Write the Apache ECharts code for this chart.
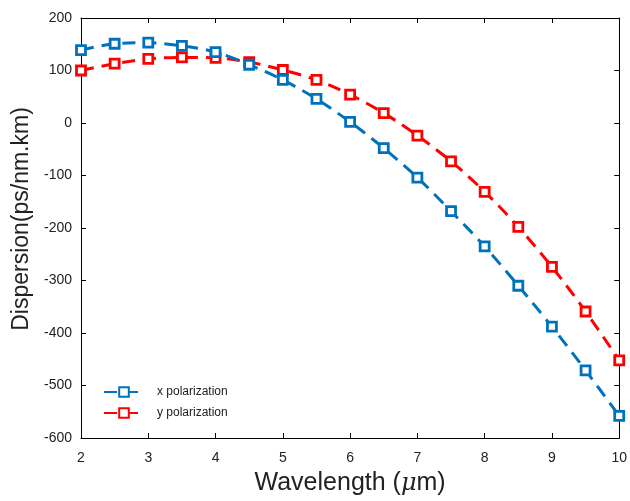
<!DOCTYPE html>
<html><head><meta charset="utf-8">
<script src="https://cdn.jsdelivr.net/npm/echarts@6/dist/echarts.min.js"></script>
<style>html,body{margin:0;padding:0;background:#fff}#c{width:630px;height:501px}</style>
</head><body><div id="c"></div>
<script>
const wavelength = [2, 2.5, 3, 3.5, 4, 4.5, 5, 5.5, 6, 6.5, 7, 7.5, 8, 8.5, 9, 9.5, 10];
const xPol = [139, 151, 153, 147, 135, 111, 82, 46, 2, -48, -104, -168, -235, -310, -388, -471, -558];
const yPol = [100, 113, 122, 125, 124, 116, 101, 82, 54, 19, -24, -73, -131, -198, -274, -359, -452];
const xTicks = [2, 3, 4, 5, 6, 7, 8, 9, 10];
const yTicks = [-600, -500, -400, -300, -200, -100, 0, 100, 200];

const font = 'Liberation Sans, Arial, sans-serif';
const chart = echarts.init(document.getElementById('c'), null, {renderer: 'canvas'});
function ser(name, vals, color) {
  return {
    name, type: 'line', smooth: 0.3,
    data: wavelength.map((w, i) => [w, vals[i]]),
    symbol: 'rect', symbolSize: 9,
    lineStyle: {color, width: 3, type: [13, 8]},
    itemStyle: {color: '#fff', borderColor: color, borderWidth: 2.8},
    emphasis: {disabled: true}, z: name === 'x polarization' ? 3 : 2
  };
}
function axisCommon() {
  return {
    axisLine: {show: true, onZero: false, lineStyle: {color: '#000', width: 1}},
    axisTick: {show: true, inside: true, length: 5, lineStyle: {color: '#000'}},
    splitLine: {show: false}
  };
}
chart.setOption({
  animation: false,
  grid: {left: 81, right: 8, top: 18, bottom: 61},
  legend: {
    orient: 'vertical', left: 98, top: 381, itemWidth: 40, itemHeight: 12, itemGap: 9,
    textStyle: {fontFamily: font, fontSize: 12, color: '#222', padding: [0, 0, 0, 8]},
    data: ['x polarization', 'y polarization']
  },
  xAxis: [
    Object.assign({type: 'value', min: 2, max: 10, interval: 1,
      axisLabel: {fontFamily: font, fontSize: 14, color: '#222', margin: 13},
      name: '{n|Wavelength (}{i|μ}{n|m)}', nameLocation: 'middle', nameGap: 33,
      nameTextStyle: {rich: {n: {fontFamily: font, fontSize: 25, color: '#222'}, i: {fontFamily: 'DejaVu Serif, serif', fontStyle: 'italic', fontSize: 24, color: '#222'}}}
    }, axisCommon()),
    Object.assign({type: 'value', min: 2, max: 10, interval: 1, position: 'top',
      axisLabel: {show: false}}, axisCommon())
  ],
  yAxis: [
    Object.assign({type: 'value', min: -600, max: 200, interval: 100,
      axisLabel: {fontFamily: font, fontSize: 14, color: '#222', margin: 9},
      name: 'Dispersion(ps/nm.km)', nameLocation: 'middle', nameGap: 47,
      nameTextStyle: {fontFamily: font, fontSize: 23, color: '#222', padding: [0, 0, 0, 18]}
    }, axisCommon()),
    Object.assign({type: 'value', min: -600, max: 200, interval: 100, position: 'right',
      axisLabel: {show: false}}, axisCommon())
  ],
  series: [ser('x polarization', xPol, '#0072BD'), ser('y polarization', yPol, '#FF0000')]
});
</script></body></html>
